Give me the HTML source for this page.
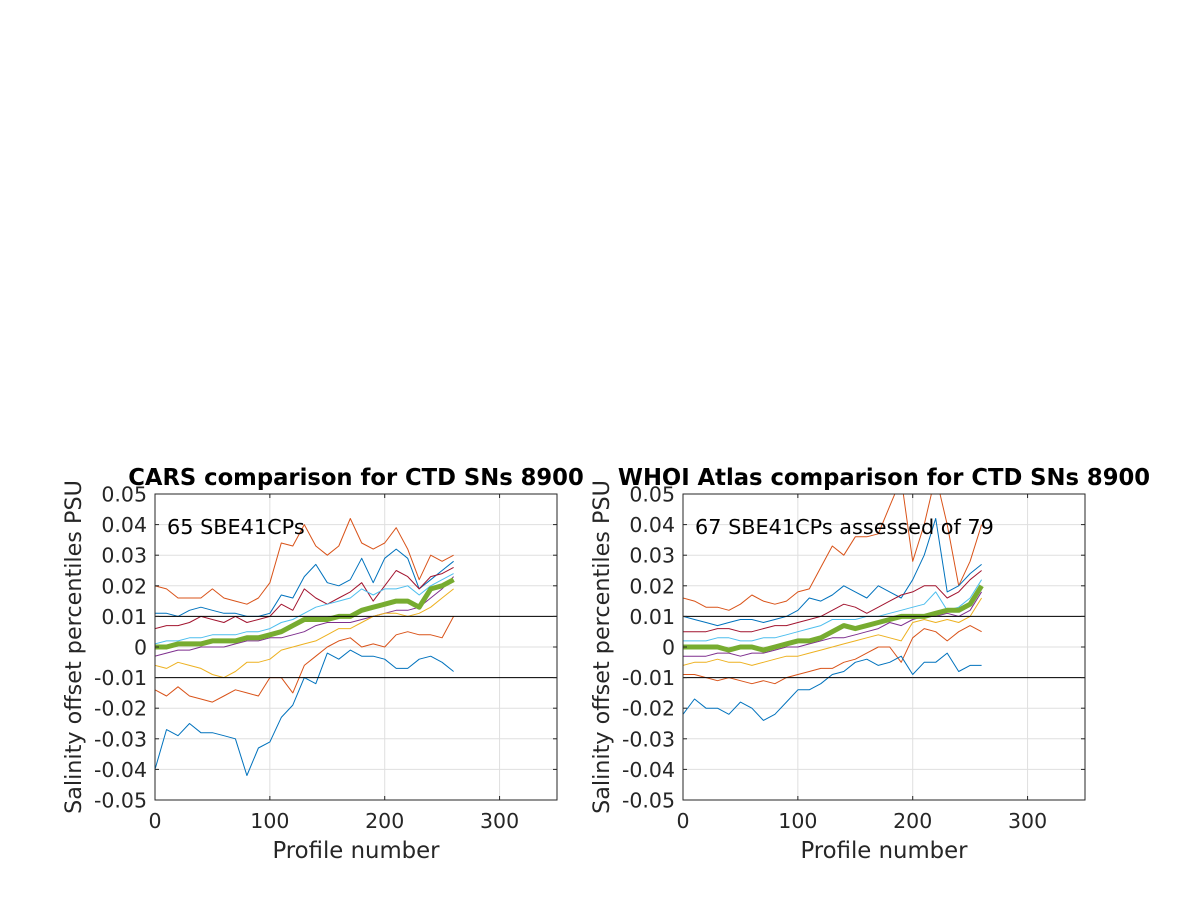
<!DOCTYPE html>
<html><head><meta charset="utf-8"><style>
body{margin:0;background:#fff;width:1200px;height:900px;overflow:hidden}
svg{display:block;font-family:"DejaVu Sans","Liberation Sans",sans-serif}
</style></head><body>
<svg id="fig" width="1200" height="900"></svg>
<script>
const profiles=[0,10,20,30,40,50,60,70,80,90,100,110,120,130,140,150,160,170,180,190,200,210,220,230,240,250,260];
const xTicks=[0,100,200,300];
const yTicks=[-0.05,-0.04,-0.03,-0.02,-0.01,0,0.01,0.02,0.03,0.04,0.05];
const yTickLabels=["-0.05","-0.04","-0.03","-0.02","-0.01","0","0.01","0.02","0.03","0.04","0.05"];
const seriesColors=["#D95319","#0072BD","#A2142F","#4DBEEE","#7E2F8E","#EDB120","#D95319","#0072BD","#77AC30"];
const seriesNames=["orange-upper","blue-upper","red","light-blue","purple","yellow","orange-lower","blue-lower","median"];
// left (CARS) series, units 0.001 PSU
const cOrangeUp=[20,19,16,16,16,19,16,15,14,16,21,34,33,40,33,30,33,42,34,32,34,39,32,22,30,28,30];
const cBlueUp=[11,11,10,12,13,12,11,11,10,10,11,17,16,23,27,21,20,22,29,21,29,32,29,19,22,25,28];
const cRed=[6,7,7,8,10,9,8,10,8,9,10,14,12,19,16,14,16,18,21,15,20,25,23,19,23,24,26];
const cLightBlue=[1,2,2,3,3,4,4,4,5,5,6,8,9,11,13,14,15,16,19,17,19,19,20,17,20,22,24];
const cPurple=[-3,-2,-1,-1,0,0,0,1,2,2,3,3,4,5,7,8,8,8,9,10,11,12,12,13,16,19,23];
const cYellow=[-6,-7,-5,-6,-7,-9,-10,-8,-5,-5,-4,-1,0,1,2,4,6,6,8,10,11,11,10,11,13,16,19];
const cOrangeLow=[-14,-16,-13,-16,-17,-18,-16,-14,-15,-16,-10,-10,-15,-6,-3,0,2,3,0,1,0,4,5,4,4,3,10];
const cBlueLow=[-40,-27,-29,-25,-28,-28,-29,-30,-42,-33,-31,-23,-19,-10,-12,-2,-4,-1,-3,-3,-4,-7,-7,-4,-3,-5,-8];
const cGreen=[0,0,1,1,1,2,2,2,3,3,4,5,7,9,9,9,10,10,12,13,14,15,15,13,19,20,22];
// right (WHOI) series
const wOrangeUp=[16,15,13,13,12,14,17,15,14,15,18,19,26,33,30,36,36,37,46,55,28,40,56,40,20,28,40];
const wBlueUp=[10,9,8,7,8,9,9,8,9,10,12,16,15,17,20,18,16,20,18,16,22,30,42,18,20,24,27];
const wRed=[5,5,5,6,6,5,5,6,7,7,8,9,10,12,14,13,11,13,15,17,18,20,20,16,18,22,25];
const wLightBlue=[2,2,2,3,3,2,2,3,3,4,5,6,7,9,9,9,10,10,11,12,13,14,18,12,13,16,22];
const wPurple=[-3,-3,-3,-2,-2,-3,-2,-2,-1,0,0,1,2,3,3,4,5,6,8,7,9,10,10,11,10,12,18];
const wYellow=[-6,-5,-5,-4,-5,-5,-6,-5,-4,-3,-3,-2,-1,0,1,2,3,4,3,2,8,9,8,9,8,10,16];
const wOrangeLow=[-9,-9,-10,-11,-10,-11,-12,-11,-12,-10,-9,-8,-7,-7,-5,-4,-2,0,0,-5,3,6,5,2,5,7,5];
const wBlueLow=[-22,-17,-20,-20,-22,-18,-20,-24,-22,-18,-14,-14,-12,-9,-8,-5,-4,-6,-5,-3,-9,-5,-5,-2,-8,-6,-6];
const wGreen=[0,0,0,0,-1,0,0,-1,0,1,2,2,3,5,7,6,7,8,9,10,10,10,11,12,12,14,20];

const NS="http://www.w3.org/2000/svg";
const fig=document.getElementById('fig');
function mk(tag,attrs,parent){const e=document.createElementNS(NS,tag);for(const k in attrs)e.setAttribute(k,attrs[k]);(parent||fig).appendChild(e);return e;}

function panel(id,x0,title,note,series){
  const x1=x0+402,y0=494,y1=800;
  const xs=v=>x0+(v/350)*(x1-x0);
  const ys=v=>y1-((v+0.05)/0.1)*(y1-y0);
  const g=mk('g',{});
  
  
  const clip=mk('clipPath',{id:id+'-clip'},g);
  mk('rect',{x:x0,y:y0,width:x1-x0,height:y1-y0},clip);
  xTicks.forEach(t=>{const l=mk('line',{x1:xs(t),x2:xs(t),y1:y0,y2:y1,stroke:'#dfdfdf','stroke-width':1},g);
    });
  yTicks.forEach(t=>{const l=mk('line',{x1:x0,x2:x1,y1:ys(t),y2:ys(t),stroke:'#dfdfdf','stroke-width':1},g);
    });
  const sg=mk('g',{'clip-path':'url(#'+id+'-clip)'},g);
  series.forEach((arr,i)=>{
    const d=arr.map((v,j)=>(j?'L':'M')+xs(profiles[j]).toFixed(1)+','+ys(v/1000).toFixed(1)).join('');
    const p=mk('path',{d:d,fill:'none',stroke:seriesColors[i],'stroke-width':i===8?5:1,'stroke-linejoin':'round'},sg);
    
    
  });
  [0.01,-0.01].forEach(v=>{const l=mk('line',{x1:x0,x2:x1,y1:ys(v),y2:ys(v),stroke:'#000','stroke-width':1},g);
    });
  const box=mk('rect',{x:x0,y:y0,width:x1-x0,height:y1-y0,fill:'none',stroke:'#262626','stroke-width':1},g);
  
  xTicks.forEach(t=>{
    mk('line',{x1:xs(t),x2:xs(t),y1:y1,y2:y1-4,stroke:'#262626'},g);
    mk('line',{x1:xs(t),x2:xs(t),y1:y0,y2:y0+4,stroke:'#262626'},g);
    const tx=mk('text',{x:xs(t),y:y1+28,'text-anchor':'middle','font-size':20.5,fill:'#262626'},g);
    tx.textContent=t;
  });
  yTicks.forEach((t,i)=>{
    mk('line',{x1:x0,x2:x0+4,y1:ys(t),y2:ys(t),stroke:'#262626'},g);
    mk('line',{x1:x1,x2:x1-4,y1:ys(t),y2:ys(t),stroke:'#262626'},g);
    const tx=mk('text',{x:x0-8,y:ys(t)+7.5,'text-anchor':'end','font-size':20.5,fill:'#262626'},g);
    tx.textContent=yTickLabels[i];
  });
  const xl=mk('text',{x:(x0+x1)/2,y:858,'text-anchor':'middle','font-size':22.8,fill:'#262626'},g);
  xl.textContent='Profile number';
  const yl=mk('text',{x:0,y:0,'text-anchor':'middle','font-size':22.3,fill:'#262626',transform:'translate('+(x0-74)+','+(y0+y1)/2+') rotate(-90)'},g);
  yl.textContent='Salinity offset percentiles PSU';
  const ti=mk('text',{x:(x0+x1)/2,y:485,'text-anchor':'middle','font-size':22.7,'font-weight':'bold',fill:'#000'},g);
  ti.textContent=title;
  const nt=mk('text',{x:x0+12,y:534,'font-size':20.8,fill:'#000'},g);
  nt.textContent=note;
}
panel('cars',155,'CARS comparison for CTD SNs 8900','65 SBE41CPs',
  [cOrangeUp,cBlueUp,cRed,cLightBlue,cPurple,cYellow,cOrangeLow,cBlueLow,cGreen]);
panel('whoi',683,'WHOI Atlas comparison for CTD SNs 8900','67 SBE41CPs assessed of 79',
  [wOrangeUp,wBlueUp,wRed,wLightBlue,wPurple,wYellow,wOrangeLow,wBlueLow,wGreen]);
</script>
</body></html>
